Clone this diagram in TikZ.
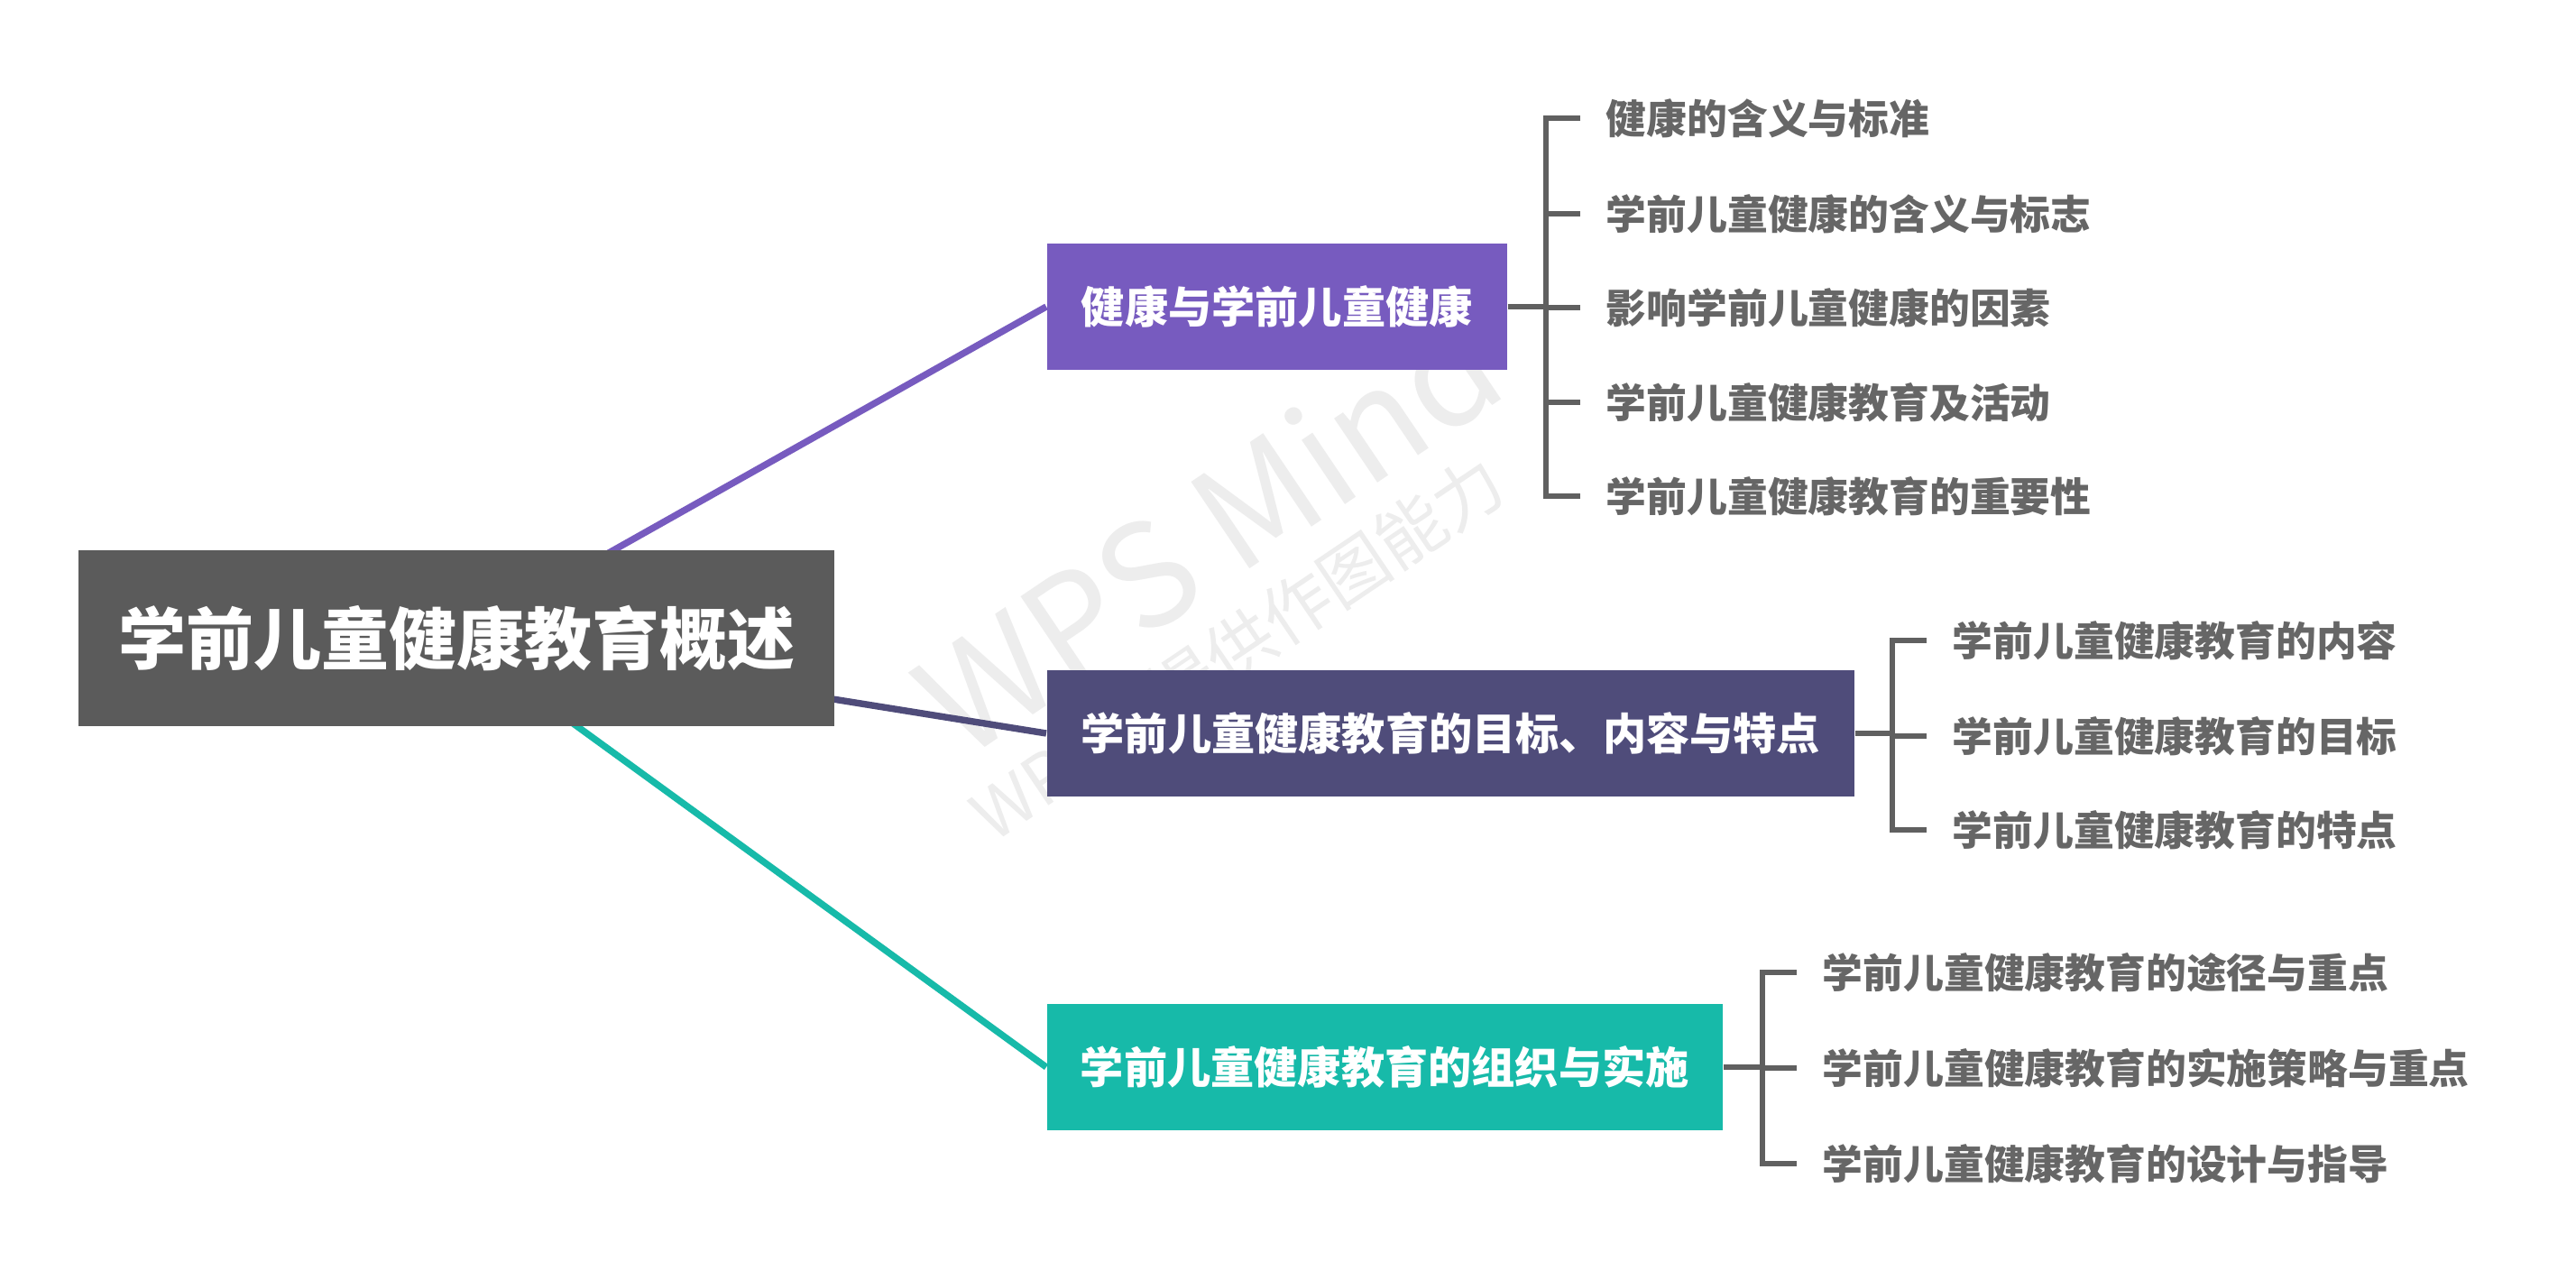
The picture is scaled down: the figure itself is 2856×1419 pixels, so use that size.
\documentclass[tikz,border=0pt]{standalone}
\usepackage{fontspec}
\setmainfont{Noto Sans CJK SC}
\usetikzlibrary{backgrounds}
\definecolor{rootgray}{HTML}{5B5B5B}
\definecolor{cpurple}{HTML}{775BBF}
\definecolor{cdark}{HTML}{4F4C7A}
\definecolor{cteal}{HTML}{17BAA9}
\definecolor{leafgray}{HTML}{666666}
\definecolor{brgray}{HTML}{606060}
\definecolor{wmgray}{HTML}{EDEDED}
\pgfdeclarelayer{wm}
\pgfsetlayers{wm,background,main}
\tikzset{
  rootbox/.style={fill=rootgray, text=white, inner sep=0, minimum width=209.5pt, minimum height=48.75pt, font=\bfseries\fontsize{18.75pt}{20pt}\selectfont},
  topicbox/.style={inner sep=0, minimum height=35pt, text=white, anchor=west, font=\bfseries\fontsize{12.05pt}{14pt}\selectfont},
  leaf/.style={inner sep=0, anchor=west, text=leafgray, font=\bfseries\fontsize{11.2pt}{13pt}\selectfont},
  link/.style={line width=1.85pt},
  br/.style={draw=brgray, line width=1.3pt},
  wmark/.style={text=wmgray, rotate=34, inner sep=0}
}
\begin{document}
\begin{tikzpicture}[x=0.25pt, y=-0.25pt]
\useasboundingbox (0,0) rectangle (2856,1419);

% watermark
\begin{pgfonlayer}{wm}
\fill[white] (0,0) rectangle (2856,1419);
\node[wmark, font=\fontsize{39.5pt}{42pt}\selectfont] (wm1) at (1338,588) {WPS Mind};
\node[wmark, font=\fontsize{19pt}{21pt}\selectfont] (wm2) at (1372,718) {WPS仅提供作图能力};
\end{pgfonlayer}

% root
\node[rootbox] (root) at (506,708) {学前儿童健康教育概述};

% topic boxes
\node[topicbox, fill=cpurple, minimum width=127.5pt] (t1) at (1160,340) {健康与学前儿童健康};
\node[topicbox, fill=cdark, minimum width=223.75pt] (t2) at (1160,813) {学前儿童健康教育的目标、内容与特点};
\node[topicbox, fill=cteal, minimum width=187.25pt] (t3) at (1160,1183) {学前儿童健康教育的组织与实施};

% links
\begin{scope}[on background layer]
\draw[link, cpurple] (root.center) -- (t1.west);
\draw[link, cdark] (root.center) -- (t2.west);
\draw[link, cteal] (root.center) -- (t3.west);
\end{scope}

% leaves group 1
\node[leaf] (a1) at (1780,131) {健康的含义与标准};
\node[leaf] (a2) at (1780,237) {学前儿童健康的含义与标志};
\node[leaf] (a3) at (1780,341) {影响学前儿童健康的因素};
\node[leaf] (a4) at (1780,446) {学前儿童健康教育及活动};
\node[leaf] (a5) at (1780,550) {学前儿童健康教育的重要性};
\coordinate (ba) at (1714,340);
\draw[br] (t1.east) -- (ba);
\draw[br] ([xshift=-7pt]a1.west) -| (ba |- a5.west) -- ([xshift=-7pt]a5.west);
\draw[br] (ba |- a2.west) -- ([xshift=-7pt]a2.west);
\draw[br] (ba |- a3.west) -- ([xshift=-7pt]a3.west);
\draw[br] (ba |- a4.west) -- ([xshift=-7pt]a4.west);

% leaves group 2
\node[leaf] (b1) at (2164,710) {学前儿童健康教育的内容};
\node[leaf] (b2) at (2164,816) {学前儿童健康教育的目标};
\node[leaf] (b3) at (2164,920) {学前儿童健康教育的特点};
\coordinate (bb) at (2098,813);
\draw[br] (t2.east) -- (bb);
\draw[br] ([xshift=-7pt]b1.west) -| (bb |- b3.west) -- ([xshift=-7pt]b3.west);
\draw[br] (bb |- b2.west) -- ([xshift=-7pt]b2.west);

% leaves group 3
\node[leaf] (c1) at (2020,1078) {学前儿童健康教育的途径与重点};
\node[leaf] (c2) at (2020,1184) {学前儿童健康教育的实施策略与重点};
\node[leaf] (c3) at (2020,1290) {学前儿童健康教育的设计与指导};
\coordinate (bc) at (1954,1183);
\draw[br] (t3.east) -- (bc);
\draw[br] ([xshift=-7pt]c1.west) -| (bc |- c3.west) -- ([xshift=-7pt]c3.west);
\draw[br] (bc |- c2.west) -- ([xshift=-7pt]c2.west);
\end{tikzpicture}
\end{document}
